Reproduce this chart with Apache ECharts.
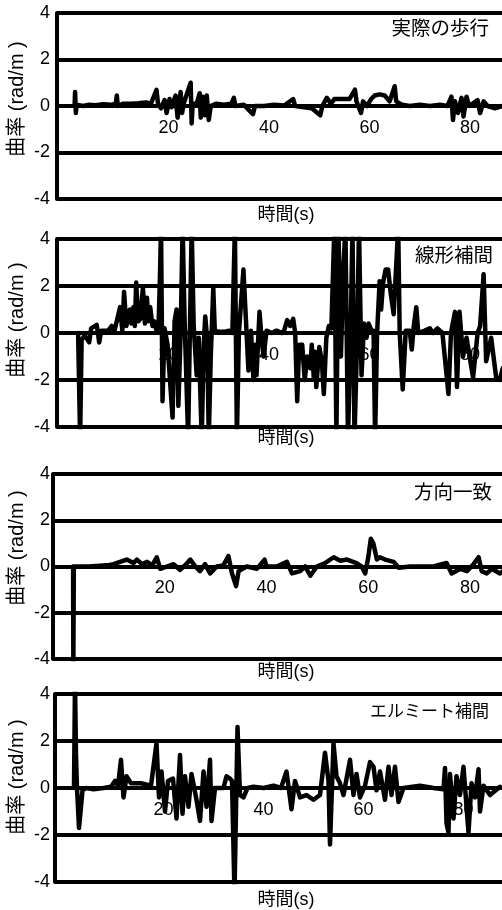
<!DOCTYPE html>
<html><head><meta charset="utf-8">
<script src="https://cdn.jsdelivr.net/npm/echarts@6/dist/echarts.min.js"></script>
<style>html,body{margin:0;padding:0;background:#fff}#c{width:502px;height:910px}</style>
</head><body><div id="c"></div>
<script>
// ---- data (time s, curvature rad/m) ----
const panelTitles = ['実際の歩行', '線形補間', '方向一致', 'エルミート補間'];
const xTickValues = [20, 40, 60, 80];
const yTickStep = 2;
const xName = '時間(s)';
const yName = '曲率 (rad/m )';

const walkPoints = [[1.3,0],[1.4,0.6],[1.55,-0.3],[1.7,0.05],[3,0],[4,0.05],[5.5,0.03],[7,0.08],[8.5,0.05],[9.5,0.1],[9.7,0.45],[9.9,0],[11,0.1],[12.5,0.1],[14,0.12],[15.5,0.15],[16.5,0.1],[17.6,0.7],[17.9,0.1],[18.5,-0.1],[19.2,0.25],[19.6,-0.3],[20.2,0.3],[20.6,-0.05],[21.4,0.45],[21.8,-0.5],[22.4,0.6],[22.7,-0.3],[23.0,0.1],[24.4,1.0],[24.6,-0.75],[24.8,0.1],[25.6,0.1],[26.2,0.55],[26.4,-0.5],[26.8,0.4],[27.2,-0.4],[27.6,0.45],[28.0,-0.6],[28.4,0],[29.5,0.1],[31,0.05],[32.5,0.1],[33.0,0.35],[33.3,0],[35,0.05],[36.8,-0.35],[37.2,0],[39,0],[41,0.05],[43,0.02],[44.8,0.3],[45.2,0],[47,-0.05],[48.5,-0.1],[50.2,-0.4],[50.6,0],[51.5,0.35],[52.3,0.1],[53,0.3],[54.5,0.3],[56,0.3],[57.1,0.7],[57.4,0.2],[58.3,-0.3],[58.7,0.2],[59.5,0],[60.3,0.3],[61,0.45],[62,0.5],[63,0.45],[64,0.2],[65.0,0.85],[65.3,0.2],[66.5,0.05],[68,0],[70,0.05],[72,0],[74,0.05],[75.5,0],[76.3,0.4],[76.6,-0.6],[77.0,0.2],[77.6,-0.3],[78.3,0.35],[78.7,-0.45],[79.3,0.4],[79.8,0],[81.5,0.25],[82.0,-0.3],[82.7,0.2],[83.5,0],[85,-0.1],[86.5,0]];

const linearPoints = [[2.0,0],[2.4,-4.5],[2.7,-0.3],[3.3,-0.1],[4.2,-0.4],[4.6,0.2],[5.7,0.35],[6.2,-0.4],[6.6,0.1],[8.0,0.1],[8.7,0.3],[9.2,0.05],[10.35,1.1],[10.8,0.1],[11.15,1.75],[11.6,0.3],[12.3,1.0],[12.6,0.4],[13.0,1.1],[13.3,0.3],[13.55,2.15],[14.0,0.5],[14.4,0.6],[14.9,1.95],[15.3,0.4],[15.7,1.5],[16.0,0.5],[16.35,1.1],[16.8,0.3],[17.15,0.5],[17.6,0.1],[18.0,0.2],[18.3,2.5],[18.5,4.5],[18.8,-2.9],[19.2,0.2],[19.8,-0.5],[20.8,-3.6],[21.2,0.5],[21.6,1.0],[21.95,-3.1],[22.4,0],[22.8,4.5],[23.2,0.5],[23.9,-4.5],[24.2,-0.5],[24.6,4.5],[25.0,0.3],[25.6,-1.8],[26.0,-0.2],[26.6,-4.5],[27.0,-0.5],[27.3,0.7],[27.7,-0.3],[28.0,-4.5],[28.4,-1.0],[28.9,1.9],[29.2,0.1],[30,0.05],[31,0.05],[32,0.1],[32.7,0],[33.2,4.5],[33.6,-4.5],[34.0,0],[34.9,2.7],[35.9,-1.6],[36.4,0.1],[36.9,-2.0],[37.2,-0.5],[37.5,-1.8],[38.1,0.9],[38.5,-0.2],[38.9,-1.0],[39.5,0.1],[40.5,0],[41.5,0.1],[42.5,0],[43.0,0.1],[43.6,0.55],[44.2,0.3],[44.8,0.6],[45.2,0],[45.6,-2.9],[46.0,-0.5],[46.6,-0.5],[47.1,-2.0],[47.6,-1.0],[48.2,-1.5],[48.5,-0.5],[48.9,-1.9],[49.15,-0.8],[49.4,-2.3],[50.0,-0.6],[50.5,-1.2],[50.9,-2.6],[51.4,-0.2],[51.9,0.3],[52.4,0.2],[53.0,4.5],[53.4,-4.5],[53.8,4.5],[54.3,-1.0],[54.8,2.8],[55.2,4.5],[55.7,-4.5],[56.2,-0.5],[56.6,4.5],[57.0,-4.5],[57.5,-0.5],[57.9,4.5],[58.4,-1.8],[58.9,0.4],[59.4,-0.2],[59.8,0.4],[60.4,0.1],[60.8,0.1],[61.1,-4.5],[61.5,0],[62.0,2.2],[62.3,1.0],[62.7,2.15],[63.2,2.7],[63.7,2.7],[64.2,1.7],[64.8,0.8],[65.7,4.5],[66.0,0],[66.6,-2.4],[67.2,0.1],[68.0,0.1],[68.4,-0.7],[68.8,0.3],[69.3,1.1],[69.7,0],[71,0.1],[72,0.2],[72.6,0],[73.5,0.2],[74.5,0],[75.7,-2.6],[76.2,0],[77.0,0.9],[77.4,-2.3],[77.9,0.9],[78.6,-1.0],[79.3,-0.2],[80.6,-1.9],[81.5,0],[82.0,0.3],[82.7,2.5],[83.2,-1.2],[84.2,-0.2],[85.2,-1.9],[85.9,-2.0],[86.5,-1.5]];

const directionPoints = [[1.95,0],[2.0,-4.2],[2.1,0],[5,0],[8.6,0.05],[9.9,0.1],[11.2,0.2],[12.5,0.3],[13.8,0.15],[14.5,0.3],[15.5,0.1],[16.5,0.2],[17.5,0.05],[18.4,0.4],[19.1,-0.1],[20.4,0],[21.7,0.1],[23.0,-0.15],[24.2,0.1],[25.0,0.3],[26.0,0],[26.9,-0.2],[27.9,0.1],[28.9,-0.3],[30.2,0],[31.5,0.05],[32.5,0.45],[33.2,-0.3],[34.0,-0.85],[34.5,-0.2],[36.1,0],[38.1,-0.1],[39.6,0.3],[40.0,0],[42.0,0],[44.0,0.2],[45.0,-0.3],[46.6,-0.2],[47.6,0],[48.6,-0.4],[49.9,0],[51.5,0.15],[53.2,0.4],[54.5,0.25],[55.8,0.3],[57.7,0.15],[58.7,0],[59.4,-0.3],[60.0,0.4],[60.5,1.2],[61.0,1.0],[61.7,0.3],[62.3,0.4],[63.3,0.3],[65.0,0.2],[66.0,-0.05],[68.2,0],[72.8,0],[75.4,0.15],[76.4,-0.3],[78.1,-0.1],[79.4,-0.2],[80.7,0.1],[81.7,0.4],[82.3,-0.2],[83.3,-0.3],[84.3,-0.1],[85.9,-0.3],[86.5,-0.2]];

const hermitePoints = [[2.1,0],[2.3,4.5],[2.5,1.4],[2.7,0],[3.1,-1.7],[3.5,-0.8],[3.8,-0.1],[4.5,0],[6,-0.05],[8,0],[9.5,0.05],[10.3,0.3],[10.9,0.1],[11.5,1.2],[12.0,-0.4],[12.6,0.5],[13.5,0.2],[15.5,0.2],[17.5,0.1],[18.6,1.9],[19.1,-0.4],[19.6,0.7],[20.3,-1.0],[20.9,0.3],[21.9,0.4],[22.6,-1.3],[23.3,1.4],[23.8,-1.1],[24.3,0.5],[25.0,-0.8],[25.6,0.6],[26.6,-0.5],[27.3,-1.4],[28.0,0.7],[28.6,-0.8],[29.3,1.2],[29.6,-1.4],[30.3,0],[32.0,0],[32.6,0.5],[33.3,0.4],[33.7,0.3],[34.2,-4.5],[34.8,2.6],[35.3,-0.3],[36.0,-0.4],[36.8,0],[38,0.05],[40,0],[42,0.1],[43.5,0],[44.6,0.7],[45.6,-0.9],[46.3,0.3],[47.3,-0.4],[48.6,-0.3],[50.0,-0.5],[51.3,-0.3],[52.3,1.5],[53.0,0.3],[53.3,-2.4],[54.0,1.9],[54.6,0.5],[55.3,0.2],[56.0,-0.3],[57.3,1.2],[58.0,-0.3],[58.6,0.6],[59.3,-0.4],[60.3,0.1],[61.3,1.1],[62.0,0.9],[62.6,-0.1],[63.3,0.7],[64.3,-0.5],[65.0,0.9],[65.6,-0.3],[66.3,0.9],[67.0,-0.6],[68.0,0],[71.3,0.1],[74.0,0],[76.0,-0.05],[76.3,0.85],[76.6,-1.5],[77.0,-1.9],[77.3,0.6],[78.0,-1.3],[78.6,0.5],[79.3,-0.3],[80.0,0.9],[81.0,-1.9],[81.6,0.2],[82.3,-0.4],[83.0,0.8],[83.3,-1.0],[84.0,0.1],[85.3,-0.3],[87.3,0.05]];

const seriesData = [walkPoints, linearPoints, directionPoints, hermitePoints];

// ---- layout ----
const FF = "'Liberation Sans','Noto Sans CJK JP',sans-serif";
const panels = [
  {left:57, top:13,  height:186, xmin:-2.2, scale:5.025, titleX:489, titleY:30,  titleSize:19.5, nameY:215.5, yNameY:99},
  {left:57, top:239, height:188, xmin:-2.2, scale:5.025, titleX:493, titleY:257, titleSize:19.5, nameY:438,   yNameY:320},
  {left:53, top:474, height:185, xmin:-2.0, scale:5.085, titleX:492, titleY:494, titleSize:19.5, nameY:672,   yNameY:548},
  {left:55, top:694, height:188, xmin:-1.7, scale:5.0,   titleX:489, titleY:712, titleSize:17,   nameY:900,   yNameY:777}
];
const XMAX = 100;

const grid = [], xAxis = [], yAxis = [], series = [], graphic = [];
panels.forEach((p, i) => {
  const width = (XMAX - p.xmin) * p.scale;
  grid.push({left:p.left, top:p.top, height:p.height, width:width, containLabel:false, outerBoundsMode:'none'});
  xAxis.push({
    gridIndex:i, type:'value', min:p.xmin, max:XMAX, position:'bottom',
    axisLine:{show:false, onZero:false},
    axisTick:{show:false}, splitLine:{show:false},
    axisLabel:{customValues:xTickValues, fontSize:18, color:'#000',
      margin:-(p.height/2) + 13, fontFamily:FF, hideOverlap:false}
  });
  yAxis.push({
    gridIndex:i, type:'value', min:-4, max:4, interval:yTickStep,
    axisLine:{show:true, onZero:false, lineStyle:{color:'#000', width:4}},
    axisTick:{show:false},
    splitLine:{show:true, lineStyle:{color:'#000', width:3.8}},
    axisLabel:{fontSize:18, color:'#000', margin:p.left-50, padding:[8,0,0,0], fontFamily:FF}
  });
  series.push({
    type:'line', xAxisIndex:i, yAxisIndex:i, data:seriesData[i],
    showSymbol:false, symbol:'none', clip:true, animation:false,
    lineStyle:{color:'#000', width:4.5, join:'round', cap:'round'}
  });
  graphic.push({type:'text', x:p.titleX, y:p.titleY, z:100,
    style:{text:panelTitles[i], fontSize:p.titleSize, fontFamily:FF, fill:'#000',
      align:'right', verticalAlign:'middle', textAlign:'right', textVerticalAlign:'middle'}});
  graphic.push({type:'text', x:286, y:p.nameY, z:100,
    style:{text:xName, fontSize:18, fontFamily:FF, fill:'#000',
      align:'center', verticalAlign:'middle', textAlign:'center', textVerticalAlign:'middle'}});
  graphic.push({type:'text', x:17, y:p.yNameY, rotation:Math.PI/2, z:100,
    style:{text:yName, fontSize:20, fontFamily:FF, fill:'#000',
      align:'center', verticalAlign:'middle', textAlign:'center', textVerticalAlign:'middle'}});
});

const chart = echarts.init(document.getElementById('c'), null, {renderer:'canvas'});
chart.setOption({
  animation:false, backgroundColor:'#fff',
  grid, xAxis, yAxis, series, graphic
});
</script></body></html>
